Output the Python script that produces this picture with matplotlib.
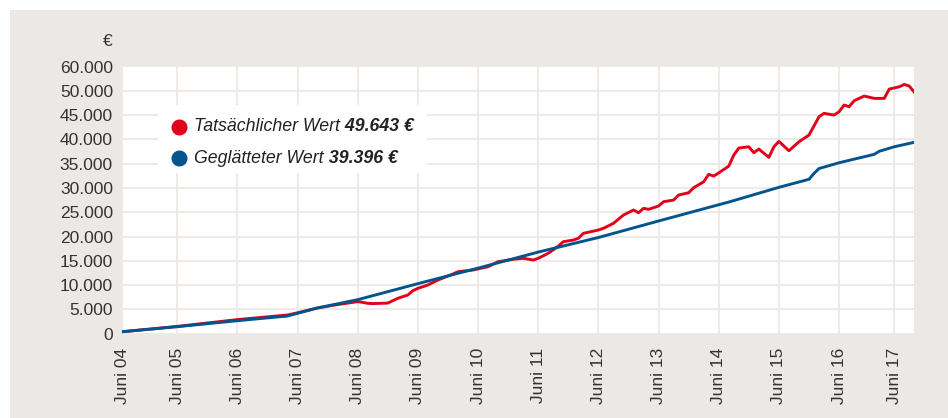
import numpy as np
import matplotlib.pyplot as plt
from matplotlib.patches import Rectangle

# months counted from June 2004
red_months = [0, 11, 23, 33, 35, 39, 43, 47, 48, 49, 50, 53, 55, 57, 58, 59, 61, 63,
              66, 67, 70, 73, 75, 78, 80, 82, 83, 85, 87, 88, 90, 91, 92, 95, 96, 98,
              100, 102, 103, 104, 105, 107, 108, 110, 111, 113, 114, 116, 117, 118,
              119, 121, 122, 123, 125, 126, 127, 129, 130, 131, 133, 135, 137, 139,
              140, 142, 143, 144, 145, 146, 148, 150, 152, 153, 155, 156, 157, 158]
red_values = [400, 1500, 2900, 3850, 4300, 5300, 6000, 6600, 6450, 6250, 6200, 6300,
              7290, 7960, 8850, 9340, 10020, 11050, 12290, 12760, 13110, 13790, 14820,
              15310, 15520, 15170, 15520, 16550, 18000, 18930, 19280, 19630, 20660,
              21340, 21690, 22720, 24430, 25460, 24900, 25810, 25600, 26280, 27170,
              27510, 28540, 29020, 30050, 31280, 32800, 32450, 33100, 34500, 36770,
              38210, 38480, 37250, 38010, 36300, 38480, 39590, 37660, 39510, 40890,
              44660, 45360, 45010, 45690, 47070, 46720, 47950, 48920, 48440, 48440,
              50350, 50830, 51320, 50970, 49700]

blue_months = [0, 11, 23, 33, 35, 39, 47, 59, 71, 83, 95, 107, 119, 121, 131, 137,
               138, 139, 143, 150, 151, 154, 158]
blue_values = [400, 1440, 2675, 3640, 4200, 5300, 7000, 10300, 13500, 16800, 19800,
               23200, 26550, 27100, 30130, 31780, 33000, 34000, 35190, 36920, 37550,
               38480, 39400]

x_ticks = [0, 11, 23, 35, 47, 59, 71, 83, 95, 107, 119, 131, 143, 154]
x_labels = ["Juni 04", "Juni 05", "Juni 06", "Juni 07", "Juni 08", "Juni 09", "Juni 10",
            "Juni 11", "Juni 12", "Juni 13", "Juni 14", "Juni 15", "Juni 16", "Juni 17"]
y_ticks = [0, 5000, 10000, 15000, 20000, 25000, 30000, 35000, 40000, 45000, 50000]
y_labels = ["0", "5.000", "10.000", "15.000", "20.000", "25.000", "30.000", "35.000",
            "40.000", "45.000", "50.000"]
y_top = 54900
y_top_label = "60.000"

legend_labels = ["Tatsächlicher Wert", "Geglätteter Wert"]
legend_values = ["49.643 €", "39.396 €"]

RED = "#e2001a"
BLUE = "#00558c"
BG = "#ece8e5"
GRID = "#ede8e5"
TXT = "#333333"

plt.rcParams['font.family'] = ['Liberation Sans', 'DejaVu Sans']

fig = plt.figure(figsize=(9.48, 4.18), dpi=100)
fig.patch.set_facecolor("white")
fig.add_artist(Rectangle((10 / 948, 0), 1, 1 - 10 / 418, transform=fig.transFigure,
                         facecolor=BG, edgecolor="none", zorder=0))

ax = fig.add_axes([122 / 948, (418 - 333.7) / 418, (914.3 - 122) / 948, (333.7 - 67) / 418])
ax.set_facecolor("white")
ax.set_zorder(1)

ax.plot(red_months, red_values, color=RED, lw=2.1, zorder=3, solid_joinstyle="round")
ax.plot(blue_months, blue_values, color=BLUE, lw=2.1, zorder=4, solid_joinstyle="round")

ax.set_xlim(0, 158)
ax.set_ylim(0, y_top)
ax.set_xticks(x_ticks, x_labels, rotation=90)
ax.set_yticks(y_ticks, y_labels)
ax.set_yticks([y_top], [y_top_label], minor=True)
ax.grid(True, which="major", color=GRID, lw=1.3, zorder=1)
ax.tick_params(which="both", length=0, labelsize=12.5, colors=TXT)
ax.tick_params(axis="y", which="both", pad=6.5)
ax.tick_params(axis="x", pad=10)
for s in ax.spines.values():
    s.set_visible(False)

fig.text(113 / 948, 1 - 42 / 418, "€", ha="right", va="center", fontsize=12.5, color=TXT)

# hand-made legend box (pixel coordinates, origin bottom-left)
ax.add_patch(Rectangle((158, 418 - 173), 269, 68, transform=None, facecolor="white",
                       edgecolor="none", zorder=2))
for i, (lab, val, col) in enumerate(zip(legend_labels, legend_values, [RED, BLUE])):
    yc = 418 - (126.7 + i * 31.6)
    ax.plot([178.7 / 948], [yc / 418], "o", ms=10.5, color=col, transform=fig.transFigure,
            clip_on=False, zorder=5)
    t1 = fig.text(194 / 948, yc / 418, lab, ha="left", va="center", fontsize=12.8,
                  style="italic", color="#222222", zorder=5)
    ax.annotate(" " + val, xy=(1, 0), xycoords=t1, ha="left", va="bottom", fontsize=12.8,
                style="italic", weight="bold", color="#222222", zorder=5,
                annotation_clip=False)

fig.savefig("out.png", dpi=100)
